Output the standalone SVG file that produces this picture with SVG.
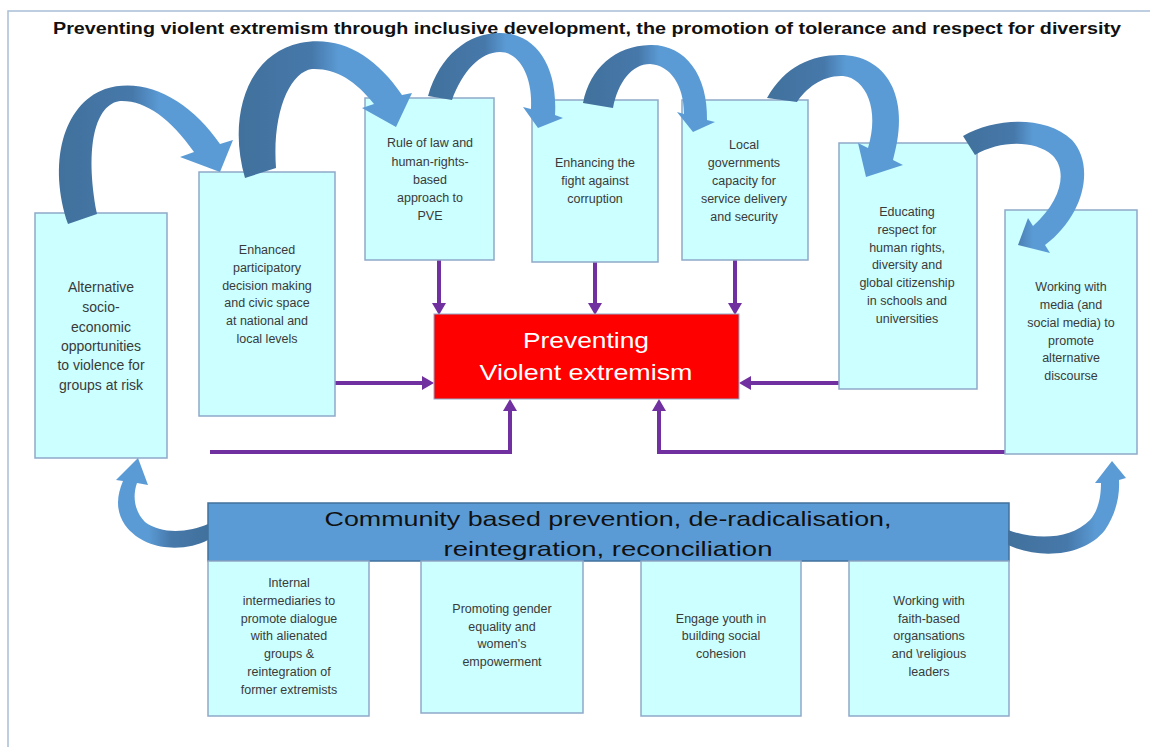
<svg xmlns="http://www.w3.org/2000/svg" width="1150" height="747" viewBox="0 0 1150 747">
<style>
.box{fill:#CCFFFF;stroke:#8EA9C9;stroke-width:1.5}
.t{font-family:"Liberation Sans",Arial,sans-serif;font-size:12.5px;fill:#3a3a3a;text-anchor:middle}
.tb{font-family:"Liberation Sans",Arial,sans-serif;font-size:12.5px;fill:#3a3a3a;text-anchor:middle}
.big{font-size:14px}
.conn{fill:none;stroke:#7030A0;stroke-width:4;marker-end:url(#ah)}
.curve{stroke:none}
</style>
<defs>
<marker id="ah" markerUnits="userSpaceOnUse" markerWidth="14" markerHeight="16" refX="1" refY="8" orient="auto">
<path d="M0,1 L12,8 L0,15 z" fill="#7030A0"/>
</marker>
<linearGradient id="gH" x1="0" y1="0" x2="1" y2="0">
<stop offset="0" stop-color="#41719C"/><stop offset="0.42" stop-color="#4678AA"/><stop offset="0.58" stop-color="#5B9BD5"/><stop offset="1" stop-color="#5B9BD5"/>
</linearGradient>
<linearGradient id="gL" x1="0" y1="0" x2="1" y2="0">
<stop offset="0" stop-color="#5B9BD5"/><stop offset="0.35" stop-color="#5B9BD5"/><stop offset="0.6" stop-color="#4678AA"/><stop offset="1" stop-color="#41719C"/>
</linearGradient>
<linearGradient id="gR" x1="0" y1="0" x2="1" y2="0">
<stop offset="0" stop-color="#41719C"/><stop offset="0.5" stop-color="#4678AA"/><stop offset="0.75" stop-color="#5B9BD5"/><stop offset="1" stop-color="#5B9BD5"/>
</linearGradient>
</defs>
<rect width="1150" height="747" fill="#FFFFFF"/>
<rect x="8" y="11" width="1200" height="800" fill="none" stroke="#A9BED8" stroke-width="1.5"/>
<text x="587" y="34" font-family="'Liberation Sans',Arial,sans-serif" font-size="16" font-weight="bold" fill="#111" text-anchor="middle" textLength="1068" lengthAdjust="spacingAndGlyphs">Preventing violent extremism through inclusive development, the promotion of tolerance and respect for diversity</text>

<g id="connectors">
<path class="conn" d="M439,260 V304"/>
<path class="conn" d="M595,262 V304"/>
<path class="conn" d="M735,260 V304"/>
<path class="conn" d="M335,383 H423"/>
<path class="conn" d="M839,383 H750"/>
<path class="conn" d="M210,452 H510 V410"/>
<path class="conn" d="M1005,452 H659 V410"/>
</g>

<g id="n-alternative">
<rect class="box" x="35" y="213" width="132" height="245"/>
<text class="t big" x="101" y="292">Alternative</text>
<text class="t big" x="101" y="312">socio-</text>
<text class="t big" x="101" y="332">economic</text>
<text class="t big" x="101" y="351">opportunities</text>
<text class="t big" x="101" y="370">to violence for</text>
<text class="t big" x="101" y="390">groups at risk</text>
</g>
<g id="n-enhanced">
<rect class="box" x="199" y="172" width="136" height="244"/>
<text class="t" x="267" y="254">Enhanced</text>
<text class="t" x="267" y="272">participatory</text>
<text class="t" x="267" y="290">decision making</text>
<text class="t" x="267" y="307">and civic space</text>
<text class="t" x="267" y="325">at national and</text>
<text class="t" x="267" y="343">local levels</text>
</g>
<g id="n-rule">
<rect class="box" x="365" y="98" width="129" height="162"/>
<text class="t" x="430" y="147">Rule of law and</text>
<text class="t" x="430" y="166">human-rights-</text>
<text class="t" x="430" y="184">based</text>
<text class="t" x="430" y="202">approach to</text>
<text class="t" x="430" y="220">PVE</text>
</g>
<g id="n-corruption">
<rect class="box" x="532" y="100" width="126" height="162"/>
<text class="t" x="595" y="167">Enhancing the</text>
<text class="t" x="595" y="185">fight against</text>
<text class="t" x="595" y="203">corruption</text>
</g>
<g id="n-local">
<rect class="box" x="682" y="100" width="126" height="160"/>
<text class="t" x="744" y="149">Local</text>
<text class="t" x="744" y="167">governments</text>
<text class="t" x="744" y="185">capacity for</text>
<text class="t" x="744" y="203">service delivery</text>
<text class="t" x="744" y="221">and security</text>
</g>
<g id="n-educating">
<rect class="box" x="839" y="143" width="138" height="246"/>
<text class="t" x="907" y="216">Educating</text>
<text class="t" x="907" y="234">respect for</text>
<text class="t" x="907" y="252">human rights,</text>
<text class="t" x="907" y="269">diversity and</text>
<text class="t" x="907" y="287">global citizenship</text>
<text class="t" x="907" y="305">in schools and</text>
<text class="t" x="907" y="323">universities</text>
</g>
<g id="n-media">
<rect class="box" x="1005" y="210" width="132" height="244"/>
<text class="t" x="1071" y="291">Working with</text>
<text class="t" x="1071" y="309">media (and</text>
<text class="t" x="1071" y="327">social media) to</text>
<text class="t" x="1071" y="345">promote</text>
<text class="t" x="1071" y="362">alternative</text>
<text class="t" x="1071" y="380">discourse</text>
</g>
<g id="n-pve">
<rect x="434" y="314" width="305" height="85" fill="#FF0000" stroke="#8EA9C9" stroke-width="1"/>
<text x="586" y="348" font-family="'Liberation Sans',Arial,sans-serif" font-size="22" fill="#FFFFFF" text-anchor="middle" textLength="126" lengthAdjust="spacingAndGlyphs">Preventing</text>
<text x="586" y="380" font-family="'Liberation Sans',Arial,sans-serif" font-size="22" fill="#FFFFFF" text-anchor="middle" textLength="213" lengthAdjust="spacingAndGlyphs">Violent extremism</text>
</g>
<g id="n-community">
<rect x="208" y="503" width="801" height="58" fill="#5B9BD5" stroke="#41719C" stroke-width="1.5"/>
<text x="608" y="526" font-family="'Liberation Sans',Arial,sans-serif" font-size="21" fill="#111" text-anchor="middle" textLength="567" lengthAdjust="spacingAndGlyphs">Community based prevention, de-radicalisation,</text>
<text x="608" y="556" font-family="'Liberation Sans',Arial,sans-serif" font-size="21" fill="#111" text-anchor="middle" textLength="329" lengthAdjust="spacingAndGlyphs">reintegration, reconciliation</text>
</g>
<g id="n-intermediaries">
<rect class="box" x="208" y="561" width="161" height="155"/>
<text class="tb" x="289" y="587">Internal</text>
<text class="tb" x="289" y="605">intermediaries to</text>
<text class="tb" x="289" y="623">promote dialogue</text>
<text class="tb" x="289" y="640">with alienated</text>
<text class="tb" x="289" y="658">groups &amp;</text>
<text class="tb" x="289" y="676">reintegration of</text>
<text class="tb" x="289" y="694">former extremists</text>
</g>
<g id="n-gender">
<rect class="box" x="421" y="561" width="162" height="152"/>
<text class="tb" x="502" y="613">Promoting gender</text>
<text class="tb" x="502" y="631">equality and</text>
<text class="tb" x="502" y="648">women's</text>
<text class="tb" x="502" y="666">empowerment</text>
</g>
<g id="n-youth">
<rect class="box" x="641" y="561" width="160" height="155"/>
<text class="tb" x="721" y="623">Engage youth in</text>
<text class="tb" x="721" y="640">building social</text>
<text class="tb" x="721" y="658">cohesion</text>
</g>
<g id="n-faith">
<rect class="box" x="849" y="561" width="160" height="155"/>
<text class="tb" x="929" y="605">Working with</text>
<text class="tb" x="929" y="623">faith-based</text>
<text class="tb" x="929" y="640">organsations</text>
<text class="tb" x="929" y="658">and \religious</text>
<text class="tb" x="929" y="676">leaders</text>
</g>

<g id="curved-arrows">
<path class="curve" fill="url(#gH)" d="M68,224 C48,165 62,105 105,89 C145,76 190,100 220,144 L233,140 L220,172 L180,157 L194,152 C170,118 145,100 120,101 C96,104 84,145 97,214 Z"/>
<path class="curve" fill="url(#gH)" d="M245,178 C228,120 245,55 300,43 C340,35 375,55 402,95 L412,93 L396,127 L362,108 L374,104 C355,80 335,68 312,69 C290,72 272,112 276,168 Z"/>
<path class="curve" fill="url(#gH)" d="M428,96 C440,55 468,33 500,33 C535,33 558,65 555,115 L563,118 L538,128 L523,107 L531,109 C533,78 520,52 500,52 C480,52 462,72 452,100 Z"/>
<path class="curve" fill="url(#gH)" d="M583,103 C590,68 615,46 650,45 C685,44 708,75 707,120 L715,122 L693,132 L677,112 L684,114 C684,85 670,65 650,64 C632,64 618,82 613,108 Z"/>
<path class="curve" fill="url(#gH)" d="M767,98 C785,66 812,55 840,55 C885,55 912,95 893,160 L903,165 L866,177 L858,143 L868,148 C880,110 866,78 843,76 C823,75 806,88 797,102 Z"/>
<path class="curve" fill="url(#gH)" d="M963,136 C995,118 1045,115 1072,140 C1095,165 1085,215 1045,245 L1050,253 L1018,245 L1028,218 L1033,226 C1062,200 1068,170 1052,155 C1035,140 1000,140 975,155 Z"/>
<path class="curve" fill="url(#gL)" d="M208,540 C185,552 145,552 125,525 C115,510 117,495 123,481 L116,480 L138,458 L148,485 L137,483 C132,497 135,512 145,522 C162,535 190,532 208,524 Z"/>
<path class="curve" fill="url(#gR)" d="M1008,545 C1040,560 1085,556 1105,530 C1115,515 1120,498 1119,480 L1126,478 L1112,461 L1095,483 L1101,483 C1101,500 1097,512 1090,520 C1070,540 1035,540 1008,530 Z"/>
</g>
</svg>
